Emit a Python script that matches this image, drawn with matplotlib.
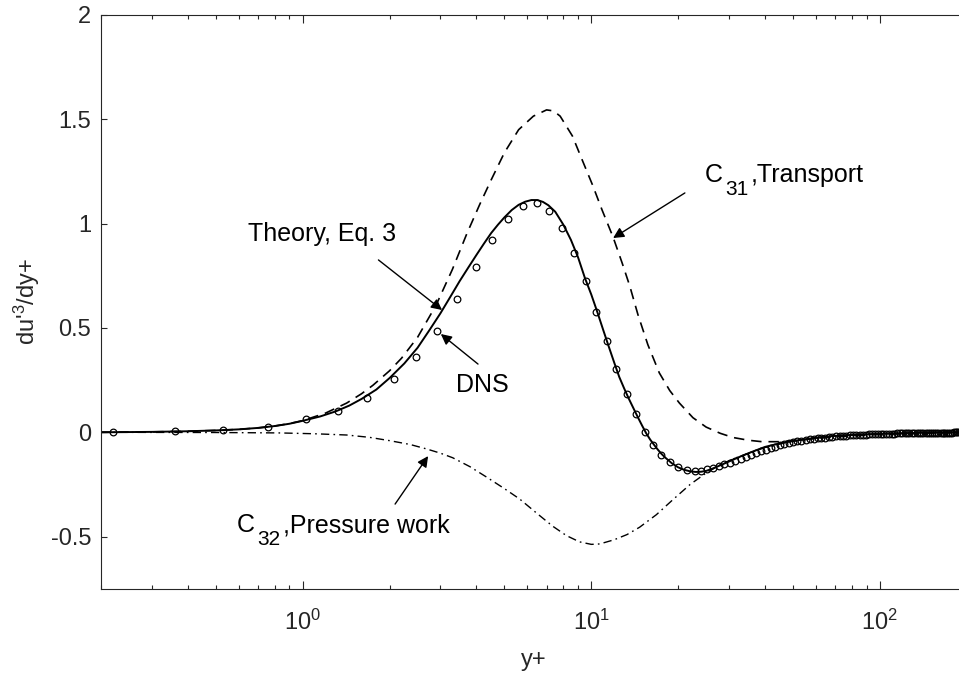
import matplotlib
matplotlib.use('Agg')
import matplotlib.pyplot as plt
from matplotlib.ticker import LogLocator, NullFormatter

plt.rcParams['font.family'] = ['Liberation Sans', 'DejaVu Sans']
plt.rcParams['mathtext.fontset'] = 'custom'
plt.rcParams['mathtext.rm'] = 'Liberation Sans'
plt.rcParams['mathtext.it'] = 'Liberation Sans:italic'
plt.rcParams['mathtext.default'] = 'regular'
plt.rcParams['lines.scale_dashes'] = False

# ---------------- data ----------------
theory_x = [0.2, 0.3, 0.4, 0.5, 0.6, 0.7, 0.8, 0.9, 1.0, 1.15, 1.3, 1.45, 1.6, 1.8, 2.0,
            2.25, 2.5, 2.75, 3.0, 3.25, 3.5, 3.75, 4.0, 4.25, 4.5, 4.75, 5.0, 5.3, 5.6,
            5.9, 6.2, 6.5, 6.8, 7.1, 7.5, 8.0, 8.5, 9.0, 9.5, 10.0, 10.5, 11.0, 11.5,
            12.0, 12.5, 13.0, 13.5, 14.0, 14.5, 15.0, 15.5, 16.0, 16.5, 17.0, 17.5,
            18.0, 19.0, 20.0, 21.0, 22.0, 23.0, 24.0, 25.0, 26.0, 28.0, 30.0, 33.0,
            36.0, 40.0, 45.0, 50.0, 60.0, 70.0, 80.0, 100.0, 130.0, 160.0, 200.0]
theory_y = [0.0, 0.002, 0.005, 0.009, 0.014, 0.021, 0.03, 0.041, 0.055, 0.076, 0.10, 0.128,
            0.16, 0.205, 0.26, 0.33, 0.405, 0.49, 0.57, 0.65, 0.725, 0.79, 0.85, 0.905,
            0.955, 0.995, 1.03, 1.065, 1.09, 1.105, 1.113, 1.113, 1.104, 1.088, 1.057,
            0.995, 0.922, 0.838, 0.74, 0.66, 0.575, 0.49, 0.41, 0.335, 0.265, 0.21, 0.16,
            0.115, 0.072, 0.032, -0.005, -0.035, -0.06, -0.083, -0.103, -0.12, -0.148,
            -0.168, -0.18, -0.187, -0.19, -0.189, -0.185, -0.177, -0.158, -0.14, -0.115,
            -0.094, -0.07, -0.053, -0.042, -0.026, -0.017, -0.013, -0.007, -0.003, -0.001,
            0.0]

c31_x = [0.2, 0.3, 0.4, 0.5, 0.6, 0.7, 0.8, 0.9, 1.0, 1.2, 1.42, 1.6, 1.75, 2.0, 2.2, 2.5,
         2.9, 3.3, 3.7, 4.1, 4.5, 5.0, 5.6, 6.3, 7.0, 7.4, 7.8, 8.6, 9.3, 10.1, 10.9, 11.9,
         12.8, 13.6, 14.5, 15.7, 17.2, 18.7, 20.2, 22.5, 25.0, 28.0, 31.0, 35.0, 39.0,
         45.0, 50.0, 60.0, 70.0, 100.0, 150.0, 200.0]
c31_y = [0.0, 0.002, 0.005, 0.009, 0.014, 0.021, 0.03, 0.042, 0.056, 0.092, 0.14, 0.185,
         0.225, 0.295, 0.355, 0.455, 0.61, 0.78, 0.95, 1.09, 1.21, 1.34, 1.45, 1.515, 1.545,
         1.54, 1.515, 1.42, 1.305, 1.185, 1.065, 0.935, 0.81, 0.70, 0.565, 0.42, 0.285,
         0.20, 0.14, 0.07, 0.025, -0.005, -0.025, -0.038, -0.045, -0.045, -0.04, -0.03,
         -0.022, -0.01, -0.003, 0.0]

c32_x = [0.2, 0.5, 0.83, 1.1, 1.42, 1.7, 2.0, 2.35, 2.69, 3.0, 3.31, 3.8, 4.34, 5.0, 5.65,
         6.5, 7.35, 8.2, 9.1, 10.0, 10.7, 12.0, 13.3, 14.7, 16.8, 19.1, 22.0, 25.0, 28.0,
         32.0, 36.0, 40.0, 50.0, 70.0, 100.0, 200.0]
c32_y = [0.0, -0.001, -0.003, -0.007, -0.013, -0.024, -0.04, -0.058, -0.08, -0.10, -0.122,
         -0.165, -0.215, -0.27, -0.32, -0.39, -0.45, -0.495, -0.525, -0.537, -0.535,
         -0.515, -0.49, -0.455, -0.395, -0.325, -0.25, -0.195, -0.155, -0.12, -0.095,
         -0.072, -0.042, -0.017, -0.007, 0.0]

dns_x = [0.22, 0.36, 0.53, 0.76, 1.03, 1.33, 1.67, 2.07, 2.46, 2.91, 3.42, 3.97, 4.52,
         5.13, 5.78, 6.47, 7.12, 7.91, 8.69, 9.57, 10.4, 11.3, 12.2, 13.3, 14.3, 15.3,
         16.4, 17.5, 18.7, 19.9, 21.4, 22.8, 24.0, 25.2, 26.4, 27.6, 28.9, 30.2, 31.5,
         32.9, 34.3, 35.7, 37.2, 38.7, 40.2, 41.8, 43.4, 45.0, 46.6, 48.3, 50.0, 51.7,
         53.5, 55.3, 57.1, 58.9, 60.8, 62.7, 64.6, 66.5, 68.5, 70.5, 72.5, 74.5, 76.6,
         78.7, 80.8, 82.9, 85.0, 87.2, 89.4, 91.6, 93.8, 96.0, 98.3, 100.6, 102.9, 105.2,
         107.5, 109.8, 112.2, 114.6, 117.0, 119.4, 121.8, 124.2, 126.6, 129.1, 131.6,
         134.1, 136.6, 139.1, 141.6, 144.1, 146.6, 149.2, 151.8, 154.4, 157.0, 159.6,
         162.2, 164.8, 167.4, 170.0, 172.6, 175.2, 177.8, 180.4, 183.0, 185.6, 188.2,
         190.8, 193.4, 196.0, 198.6]
dns_y = [0.0, 0.005, 0.01, 0.025, 0.062, 0.10, 0.162, 0.255, 0.36, 0.485, 0.64, 0.79,
         0.92, 1.02, 1.085, 1.10, 1.06, 0.98, 0.86, 0.725, 0.576, 0.437, 0.303, 0.184,
         0.088, 0.0, -0.06, -0.11, -0.14, -0.167, -0.18, -0.185, -0.184, -0.178, -0.171,
         -0.163, -0.154, -0.145, -0.136, -0.126, -0.117, -0.108, -0.099, -0.091, -0.083,
         -0.076, -0.069, -0.063, -0.058, -0.053, -0.048, -0.044, -0.040, -0.037, -0.034,
         -0.031, -0.029, -0.027, -0.025, -0.023, -0.021, -0.019, -0.018, -0.017, -0.016,
         -0.015, -0.014, -0.013, -0.012, -0.011, -0.011, -0.010, -0.009, -0.009, -0.008,
         -0.008, -0.007, -0.007, -0.006, -0.006, -0.006, -0.005, -0.005, -0.005, -0.004,
         -0.004, -0.004, -0.004, -0.003, -0.003, -0.003, -0.003, -0.003, -0.002, -0.002,
         -0.002, -0.002, -0.002, -0.002, -0.001, -0.001, -0.001, -0.001, -0.001, -0.001,
         -0.001, -0.001, 0.0, 0.0, 0.0, 0.0, 0.0, 0.0, 0.0, 0.0]

ytick_vals = [-0.5, 0, 0.5, 1, 1.5, 2]
ytick_labels = ['-0.5', '0', '0.5', '1', '1.5', '2']

# ---------------- figure ----------------
GRAY = '#262626'
fig = plt.figure(figsize=(9.59, 6.73), dpi=100)
ax = fig.add_axes([0.1053, 0.1251, 0.9028, 0.8527])

ax.plot(theory_x, theory_y, color='k', lw=1.4)
ax.plot(c31_x, c31_y, color='k', lw=1.2, dashes=(7.5, 5))
ax.plot(c32_x, c32_y, color='k', lw=1.0, dashes=(6, 3, 1.2, 3))
ax.plot(dns_x, dns_y, 'o', ms=4.8, mfc='none', mec='k', mew=0.9, color='k')

ax.set_xscale('log')
ax.set_xlim(0.2, 200)
ax.set_ylim(-0.75, 2)
ax.xaxis.set_major_locator(LogLocator(base=10))
ax.xaxis.set_minor_locator(LogLocator(base=10, subs=[2, 3, 4, 5, 6, 7, 8, 9]))
ax.xaxis.set_minor_formatter(NullFormatter())
ax.set_yticks(ytick_vals, ytick_labels)

for s in ax.spines.values():
    s.set_color(GRAY)
    s.set_linewidth(0.8)

ax.tick_params(axis='both', which='both', direction='in', top=True, right=True,
               colors=GRAY, labelsize=17, width=0.8)
ax.tick_params(axis='x', which='major', length=5.8, pad=15)
ax.tick_params(axis='x', which='minor', length=2.9)
ax.tick_params(axis='y', which='major', length=4.3, pad=7)

ax.set_xlabel('y+', fontsize=17, color=GRAY, labelpad=10)
ax.set_ylabel("du'$^3$/dy+", fontsize=17, color=GRAY, labelpad=6)

arrow = dict(arrowstyle='-|>', color='k', lw=1.0, mutation_scale=16,
             shrinkA=0, shrinkB=0)
ax.annotate('', xy=(3.04, 0.586), xytext=(1.83, 0.826), arrowprops=arrow)
ax.annotate('', xy=(3.01, 0.471), xytext=(4.05, 0.327), arrowprops=arrow)
ax.annotate('', xy=(11.9, 0.931), xytext=(21.1, 1.147), arrowprops=arrow)
ax.annotate('', xy=(2.72, -0.114), xytext=(2.09, -0.344), arrowprops=arrow)

ax.text(0.646, 0.95, 'Theory, Eq. 3', fontsize=18, color='k', va='center', ha='left')
ax.text(3.4, 0.228, 'DNS', fontsize=18, color='k', va='center', ha='left')


def sub_label(x, y, head, sub, tail):
    """MATLAB-like label with a large subscript (head, subscript, tail)."""
    ax.annotate(head, xy=(x, y), xycoords='data', xytext=(0, 0),
                textcoords='offset points', fontsize=18, color='k',
                ha='left', va='baseline')
    ax.annotate(sub, xy=(x, y), xycoords='data', xytext=(14.4, -9.4),
                textcoords='offset points', fontsize=15, color='k',
                ha='left', va='baseline')
    ax.annotate(tail, xy=(x, y), xycoords='data', xytext=(32.8, 0),
                textcoords='offset points', fontsize=18, color='k',
                ha='left', va='baseline')


sub_label(24.8, 1.199, 'C', '31', ',Transport')
sub_label(0.592, -0.478, 'C', '32', ',Pressure work')

fig.savefig('out.png', dpi=100)
